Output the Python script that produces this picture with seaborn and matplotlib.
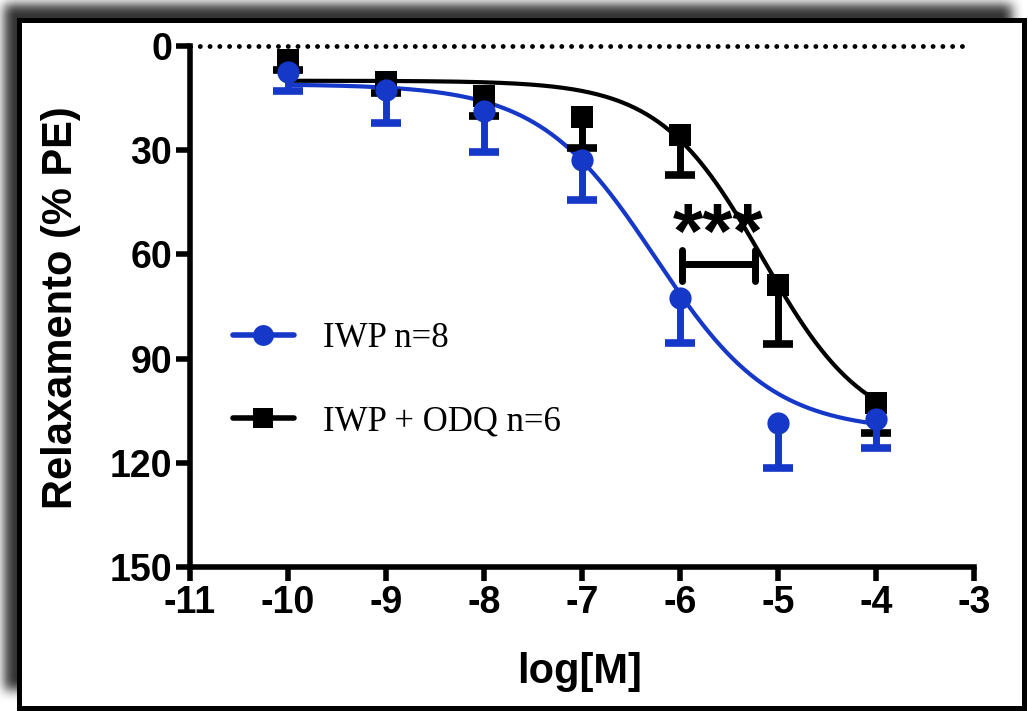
import numpy as np
import pandas as pd
import matplotlib
matplotlib.use("Agg")
import matplotlib.pyplot as plt
import seaborn as sns
from matplotlib.lines import Line2D

# data
log_conc = [-10, -9, -8, -7, -6, -5, -4]

iwp_mean = [7.4, 12.7, 18.6, 32.8, 72.6, 108.5, 107.5]
iwp_sem = [5.6, 9.4, 12.0, 11.5, 12.8, 13.0, 8.3]

odq_mean = [4.0, 10.3, 14.4, 20.4, 25.6, 68.8, 102.7]
odq_sem = [3.0, 3.1, 5.8, 9.0, 11.5, 17.0, 8.8]

# fitted sigmoid parameters (bottom, top, logEC50, hill slope)
iwp_fit = (11, 111, -6.25, 0.73)
odq_fit = (10, 112, -5.16, 0.83)

labels = ["IWP n=8", "IWP + ODQ n=6"]
xticks = [-11, -10, -9, -8, -7, -6, -5, -4, -3]
yticks = [0, 30, 60, 90, 120, 150]

sig_x = (-5.98, -5.23)
sig_y = 62.8
sig_text_pos = (-5.61, 55.0)

blue = "#1538c8"
black = "#000000"

sns.set_theme(style="white")
plt.rcParams["axes.unicode_minus"] = False
plt.rcParams["font.family"] = ["Liberation Sans", "DejaVu Sans"]
plt.rcParams["text.color"] = "black"
plt.rcParams["axes.labelcolor"] = "black"

W, H = 1028, 711
fig = plt.figure(figsize=(W / 100, H / 100), dpi=100)

# background: drop shadow + black frame
mask = np.zeros((H, W))
mask[4:690, 4:1012] = 1.0
k = np.ones(13) / 13
for _ in range(2):
    mask = np.apply_along_axis(lambda r: np.convolve(r, k, mode="same"), 1, mask)
    mask = np.apply_along_axis(lambda c: np.convolve(c, k, mode="same"), 0, mask)
bg = 1 - 0.8 * mask
img = np.dstack([bg, bg, bg])
img[18:711, 17:1027] = 0.0
img[23:706, 22:1022] = 1.0
fig.figimage(img, 0, 0, origin="upper", zorder=-10)

ax = fig.add_axes([190 / W, 1 - 567 / H, 784 / W, 521 / H])
ax.set_facecolor("none")


def hill(x, p):
    bottom, top, ec50, slope = p
    return bottom + (top - bottom) / (1 + 10 ** ((ec50 - x) * slope))


xs = np.linspace(-10, -4, 300)
curves = pd.concat([
    pd.DataFrame({"x": xs, "y": hill(xs, odq_fit), "grp": labels[1]}),
    pd.DataFrame({"x": xs, "y": hill(xs, iwp_fit), "grp": labels[0]}),
])
sns.lineplot(data=curves, x="x", y="y", hue="grp", palette={labels[0]: blue, labels[1]: black},
             linewidth=3, legend=False, ax=ax, zorder=3)

# reference line at 0
ax.plot([-11, -3.08], [0, 0], color="black", lw=3.5, linestyle=(0, (0.01, 2)),
        dash_capstyle="round", zorder=2, clip_on=False)

# one-sided error bars (only the lower side, away from zero)
for mean, sem, col, mk, z in [(odq_mean, odq_sem, black, "s", 4), (iwp_mean, iwp_sem, blue, "o", 5)]:
    ends = np.array(mean) + np.array(sem)
    ax.vlines(log_conc, mean, ends, color=col, lw=5, zorder=z)
    ax.plot(log_conc, ends, linestyle="none", marker="_", markersize=21, markeredgewidth=5.5,
            color=col, zorder=z, solid_capstyle="round")
    ax.plot(log_conc, mean, linestyle="none", marker=mk, markersize=16, color=col,
            markeredgewidth=0, zorder=z, clip_on=False)

# significance bracket
ax.plot([sig_x[0], sig_x[1]], [sig_y, sig_y], color="black", lw=5, solid_capstyle="butt", zorder=6)
for sx in sig_x:
    ax.plot([sx, sx], [sig_y - 4.2, sig_y + 4.8], color="black", lw=5, solid_capstyle="round", zorder=6)
ax.text(sig_text_pos[0], sig_text_pos[1], "***", ha="center", va="center", fontsize=56,
        fontweight="bold", zorder=6)

ax.set_xlim(-11, -3)
ax.set_ylim(150, 0)
ax.set_xlabel("")
ax.set_ylabel("")
ax.set_xticks(xticks)
ax.set_xticklabels([str(t) for t in xticks])
ax.set_yticks(yticks)
ax.set_yticklabels([str(t) for t in yticks])
ax.tick_params(axis="both", which="major", direction="out", length=10, width=4, pad=3,
               labelsize=27, colors="black", bottom=True, left=True)
for lab in ax.get_xticklabels() + ax.get_yticklabels():
    lab.set_fontweight("bold")
for s in ["top", "right"]:
    ax.spines[s].set_visible(False)
for s in ["left", "bottom"]:
    ax.spines[s].set_linewidth(4)
    ax.spines[s].set_color("black")

fig.text(61 / W, 1 - 308 / H, "Relaxamento (% PE)", rotation=90, ha="center", va="center",
         fontsize=30, fontweight="bold")
fig.text(580 / W, 1 - 672 / H, "log[M]", ha="center", va="center", fontsize=30, fontweight="bold")

handles = [
    Line2D([], [], color=blue, lw=4, marker="o", markersize=15, markeredgewidth=0),
    Line2D([], [], color=black, lw=4, marker="s", markersize=15, markeredgewidth=0),
]
fig.legend(handles, labels, loc="center left", bbox_to_anchor=(233 / W, 1 - 380 / H),
           frameon=False, borderpad=0, borderaxespad=0, handlelength=1.75, handletextpad=0.85,
           labelspacing=1.45, prop={"family": ["Liberation Serif", "DejaVu Serif"], "size": 25})

fig.savefig("out.png", dpi=100)
